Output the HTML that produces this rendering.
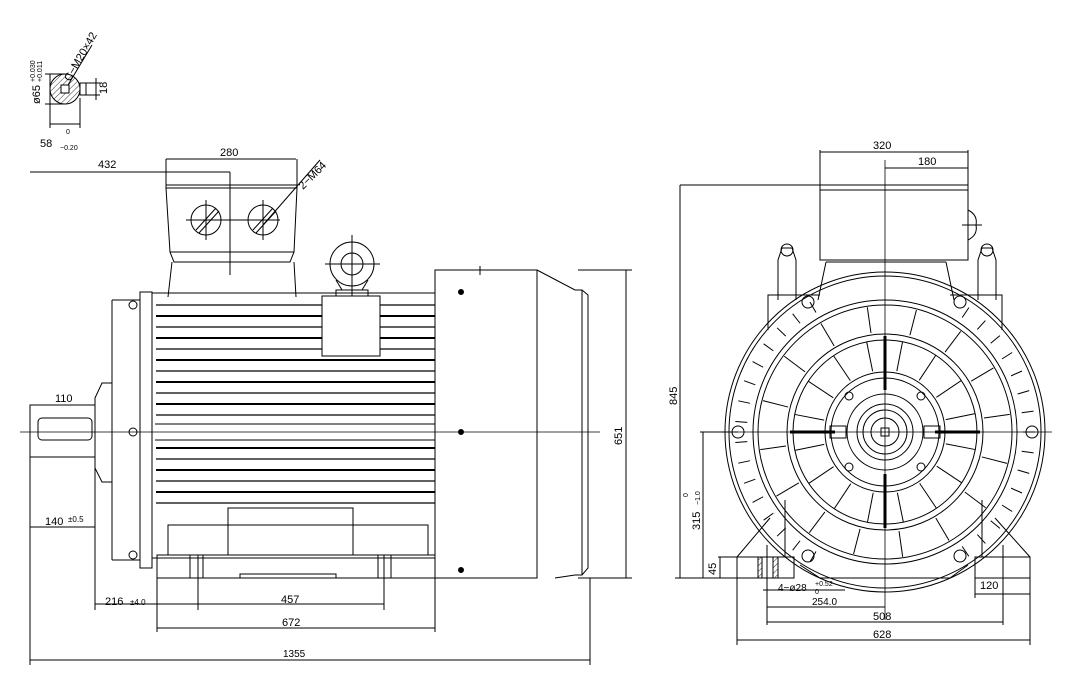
<!DOCTYPE html>
<html><head><meta charset="utf-8"><style>
html,body{margin:0;padding:0;background:#fff;width:1066px;height:676px;overflow:hidden}
svg{display:block}
text{font-family:"Liberation Sans",sans-serif;font-size:11px;fill:#000;stroke:none}
</style></head><body>
<svg id="s" width="1066" height="676" viewBox="0 0 1066 676" xmlns="http://www.w3.org/2000/svg" fill="none" stroke="#000" stroke-width="1">
<defs><pattern id="h" width="4" height="4" patternUnits="userSpaceOnUse" patternTransform="rotate(45)"><line x1="0" y1="0" x2="0" y2="4" stroke="#000" stroke-width="0.8"/></pattern></defs>
<circle cx="65" cy="89" r="15" fill="url(#h)"/>
<rect x="61" y="85" width="8" height="8" fill="#fff"/>
<rect x="80" y="83" width="6" height="12" fill="#fff"/>
<line x1="50" y1="74" x2="50" y2="104"/><line x1="45" y1="74" x2="65" y2="74"/><line x1="45" y1="104" x2="65" y2="104"/>
<line x1="50" y1="104" x2="50" y2="128"/><line x1="80" y1="98" x2="80" y2="128"/><line x1="50" y1="124" x2="80" y2="124"/>
<line x1="86" y1="83" x2="100" y2="83"/><line x1="86" y1="95" x2="100" y2="95"/><line x1="96" y1="78" x2="96" y2="100"/>
<line x1="68" y1="85" x2="92" y2="45"/>
<text transform="translate(40,104) rotate(-90)">ø65</text>
<text transform="translate(35,82) rotate(-90)" style="font-size:7px">+0.030</text>
<text transform="translate(42,82) rotate(-90)" style="font-size:7px">+0.011</text>
<text transform="translate(70,82) rotate(-60)">C−M20×42</text>
<text transform="translate(107,94) rotate(-90)">18</text>
<text x="40" y="147">58</text><text x="66" y="134" style="font-size:7px">0</text><text x="60" y="150" style="font-size:7px">−0.20</text>

<line x1="20" y1="432" x2="600" y2="432" stroke-width="0.8"/>
<line x1="30" y1="172" x2="230" y2="172"/><text x="98" y="168">432</text>
<line x1="166" y1="159" x2="296" y2="159"/><text x="220" y="156">280</text>
<line x1="230" y1="172" x2="230" y2="275"/>
<path d="M166 159 V188 L170 252 H294 L297 188 V159"/>
<line x1="166" y1="185" x2="297" y2="185"/><line x1="166" y1="188" x2="297" y2="188"/>
<path d="M172 262 L168 297 M294 262 L296 297 M170 252 L174 262 H290 L294 252"/>
<circle cx="206" cy="220" r="15"/><circle cx="263" cy="220" r="15"/>
<line x1="196" y1="230" x2="216" y2="208"/><line x1="199" y1="233" x2="219" y2="211"/>
<line x1="253" y1="230" x2="273" y2="208"/><line x1="256" y1="233" x2="276" y2="211"/>
<line x1="186" y1="220" x2="280" y2="220"/><line x1="206" y1="200" x2="206" y2="240"/><line x1="263" y1="200" x2="263" y2="240"/>
<line x1="263" y1="225" x2="320" y2="160"/>
<text transform="translate(303,190) rotate(-45)">2−M64</text>
<circle cx="352" cy="264" r="22"/><circle cx="352" cy="264" r="11"/>
<path d="M336 280 L342 290 H362 L368 280"/><rect x="336" y="290" width="32" height="6"/>
<line x1="325" y1="264" x2="380" y2="264"/><line x1="352" y1="235" x2="352" y2="310"/>
<rect x="152" y="293" width="283" height="265"/>
<path d="M140 292 H152 V568 H140 Z"/>
<path d="M112 300 H140 M112 560 H140 M112 300 V560"/>
<path d="M95 398 L102 383 H112 V482 H102 L95 468 Z"/>
<rect x="30" y="405" width="65" height="52"/><rect x="38" y="418" width="54" height="22" rx="4"/>
<line x1="38" y1="405" x2="92" y2="405"/><text x="55" y="402">110</text>
<circle cx="133" cy="305" r="4"/><circle cx="133" cy="432" r="4"/><circle cx="133" cy="555" r="4"/>
<g id="fins"></g>
<rect x="322" y="296" width="58" height="60" fill="#fff"/>
<rect x="157" y="555" width="278" height="23"/>
<rect x="228" y="508" width="125" height="47"/><rect x="168" y="525" width="260" height="30"/>
<path d="M240 578 V574 H336 V578"/>
<line x1="198" y1="555" x2="198" y2="610"/><line x1="384" y1="555" x2="384" y2="610"/>
<rect x="190" y="555" width="13" height="23"/><rect x="378" y="555" width="13" height="23"/>
<rect x="435" y="270" width="102" height="308"/>
<path d="M537 270 L575 290 H582 L588 295 V568 L582 575 H575 L555 578"/>
<line x1="582" y1="290" x2="582" y2="575"/>
<line x1="480" y1="266" x2="480" y2="275"/><line x1="474" y1="270" x2="493" y2="270"/>
<circle cx="461" cy="292" r="2.5" fill="#000"/><circle cx="461" cy="432" r="2.5" fill="#000"/><circle cx="461" cy="570" r="2.5" fill="#000"/>
<line x1="578" y1="270" x2="632" y2="270"/><line x1="578" y1="578" x2="632" y2="578"/><line x1="626" y1="270" x2="626" y2="578"/>
<text transform="translate(622,445) rotate(-90)">651</text>
<line x1="95" y1="458" x2="95" y2="610"/>
<line x1="30" y1="405" x2="30" y2="665"/>
<line x1="30" y1="527" x2="95" y2="527"/><text x="45" y="525">140</text><text x="68" y="522" style="font-size:8px">±0.5</text>
<line x1="95" y1="604" x2="384" y2="604"/><text x="105" y="605">216</text><text x="130" y="605" style="font-size:8px">±4.0</text><text x="281" y="603">457</text>
<line x1="157" y1="578" x2="157" y2="632"/><line x1="435" y1="578" x2="435" y2="632"/>
<line x1="157" y1="628" x2="435" y2="628"/><text x="282" y="626">672</text>
<line x1="590" y1="578" x2="590" y2="665"/>
<line x1="30" y1="660" x2="590" y2="660"/><text x="283" y="657" style="font-size:10px">1355</text>

<line x1="720" y1="432" x2="1052" y2="432" stroke-width="0.8"/>
<line x1="885" y1="160" x2="885" y2="620" stroke-width="0.8"/>
<line x1="820" y1="152" x2="968" y2="152"/><text x="873" y="149">320</text>
<line x1="885" y1="168" x2="968" y2="168"/><text x="918" y="165">180</text>
<path d="M820 150 V260 H968 V150"/><line x1="820" y1="185" x2="968" y2="185"/><line x1="820" y1="190" x2="968" y2="190"/>
<path d="M968 210 Q978 215 976 225 Q978 235 968 240"/><line x1="962" y1="225" x2="982" y2="225"/>
<path d="M826 262 L818 300 M946 262 L954 300 M826 262 H946"/>
<path d="M778 300 V260 L782 248 H792 L796 260 V300"/><circle cx="787" cy="250" r="6"/>
<path d="M978 300 V260 L982 248 H992 L996 260 V300"/><circle cx="987" cy="250" r="6"/>
<path d="M768 330 V295 H820 M950 295 H1002 V330"/>
<circle cx="885" cy="432" r="160"/><circle cx="885" cy="432" r="156"/>
<g id="rf"></g>
<circle cx="885" cy="432" r="132"/><circle cx="885" cy="432" r="127"/>
<circle cx="885" cy="432" r="98"/><circle cx="885" cy="432" r="92"/>
<circle cx="885" cy="432" r="60"/><circle cx="885" cy="432" r="54"/>
<circle cx="885" cy="432" r="38"/><circle cx="885" cy="432" r="28"/><circle cx="885" cy="432" r="22"/><circle cx="885" cy="432" r="14"/>
<g id="sp"></g>
<line x1="885" y1="336" x2="885" y2="390" stroke-width="3"/><line x1="885" y1="474" x2="885" y2="528" stroke-width="3"/>
<line x1="790" y1="432" x2="835" y2="432" stroke-width="3"/><line x1="935" y1="432" x2="980" y2="432" stroke-width="3"/>
<circle cx="849" cy="396" r="4"/><circle cx="921" cy="396" r="4"/><circle cx="849" cy="467" r="4"/><circle cx="921" cy="467" r="4"/>
<rect x="830" y="426" width="16" height="12"/><rect x="924" y="426" width="16" height="12"/><rect x="881" y="428" width="8" height="8"/>
<circle cx="738" cy="432" r="6"/><circle cx="1032" cy="432" r="6"/>
<circle cx="808" cy="302" r="6"/><circle cx="960" cy="302" r="6"/><circle cx="808" cy="556" r="6"/><circle cx="960" cy="556" r="6"/>
<rect x="720" y="557" width="74" height="21"/><rect x="975" y="557" width="55" height="21"/>
<path d="M737 557 L770 518 M1030 557 L995 518 M785 500 V557 M982 500 V557"/>
<path d="M800 565 L820 578 H950 L968 565"/>
<rect x="758" y="557" width="4" height="21" fill="url(#h)"/><rect x="773" y="557" width="5" height="21" fill="url(#h)"/>
<line x1="767" y1="545" x2="767" y2="625"/><line x1="1003" y1="545" x2="1003" y2="625"/>
<line x1="737" y1="557" x2="737" y2="645"/><line x1="1030" y1="557" x2="1030" y2="645"/>
<line x1="975" y1="578" x2="975" y2="598"/>
<line x1="975" y1="594" x2="1030" y2="594"/><text x="980" y="589">120</text>
<line x1="763" y1="590" x2="845" y2="590"/><text x="778" y="591" style="font-size:10px">4−ø28</text><text x="815" y="586" style="font-size:7px">+0.52</text><text x="815" y="594" style="font-size:7px">0</text>
<line x1="767" y1="607" x2="885" y2="607"/><text x="812" y="605" style="font-size:10px">254.0</text>
<line x1="767" y1="622" x2="1003" y2="622"/><text x="873" y="620">508</text>
<line x1="737" y1="640" x2="1030" y2="640"/><text x="873" y="638">628</text>
<line x1="680" y1="185" x2="820" y2="185"/><line x1="675" y1="578" x2="720" y2="578"/>
<line x1="680" y1="185" x2="680" y2="578"/><text transform="translate(677,405) rotate(-90)">845</text>
<line x1="700" y1="432" x2="738" y2="432"/><line x1="703" y1="432" x2="703" y2="578"/>
<text transform="translate(700,530) rotate(-90)">315</text><text transform="translate(700,505) rotate(-90)" style="font-size:7px">−1.0</text><text transform="translate(688,497) rotate(-90)" style="font-size:7px">0</text>
<line x1="718" y1="557" x2="737" y2="557"/><text transform="translate(716,575) rotate(-90)">45</text>
</svg>
<script>
var N="http://www.w3.org/2000/svg";
function L(g,x1,y1,x2,y2,w){var l=document.createElementNS(N,"line");l.setAttribute("x1",x1);l.setAttribute("y1",y1);l.setAttribute("x2",x2);l.setAttribute("y2",y2);if(w)l.setAttribute("stroke-width",w);g.appendChild(l);}
var f=document.getElementById("fins");
for(var y=305;y<=505;y+=11){ if(y>418&&y<448)continue; L(f,156,y,435,y,(y%22<11)?2:1.2);}
L(f,155,424,435,424);L(f,155,440,435,440);
var r=document.getElementById("rf");
for(var a=0;a<360;a+=8){if((a>60&&a<120)||(a>240&&a<300))continue; var t=a*Math.PI/180;L(r,885+138*Math.cos(t),432+138*Math.sin(t),885+150*Math.cos(t),432+150*Math.sin(t));}
var s=document.getElementById("sp");
for(var a=11;a<360;a+=22.5){var t=a*Math.PI/180;L(s,885+62*Math.cos(t),432+62*Math.sin(t),885+92*Math.cos(t),432+92*Math.sin(t));L(s,885+100*Math.cos(t+0.06),432+100*Math.sin(t+0.06),885+126*Math.cos(t+0.06),432+126*Math.sin(t+0.06));}
</script>
</body></html>
